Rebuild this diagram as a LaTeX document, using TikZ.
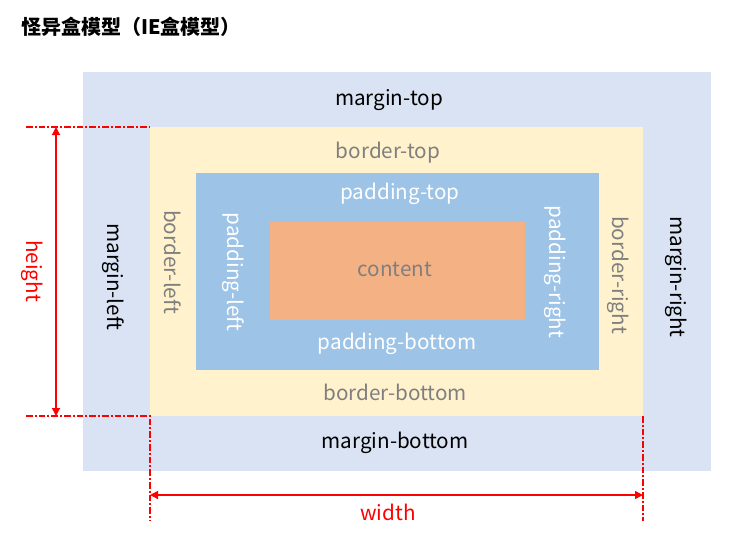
\documentclass[tikz,border=0pt]{standalone}
\usepackage{fontspec}
\setmainfont{Noto Sans CJK SC}
\usetikzlibrary{arrows.meta, positioning}

\definecolor{margin_col}{HTML}{DAE3F3}
\definecolor{border_col}{HTML}{FFF2CC}
\definecolor{padding_col}{HTML}{9DC3E6}
\definecolor{content_col}{HTML}{F4B183}
\definecolor{text_gray}{HTML}{7F7F7F}

\begin{document}
\begin{tikzpicture}[
    x=0.75pt, y=-0.75pt,
    label_style/.style={font=\fontsize{15.5}{18}\selectfont, inner sep=0pt},
    dim_style/.style={red, line width=1pt, {Triangle[length=6pt, width=6pt]}-{Triangle[length=6pt, width=6pt]}},
    guide_style/.style={red, line width=0.8pt, dash pattern=on 5pt off 1.5pt on 1.5pt off 1.5pt}
]
    \useasboundingbox (0,0) rectangle (738,537);

    % Title
    \node[anchor=west, inner sep=0pt, font=\fontsize{15}{18}\selectfont\bfseries] (title) at (21,27) {怪异盒模型（IE盒模型）};

    % Boxes
    \fill[margin_col] (83,72) rectangle (711,471);
    \fill[border_col] (150,127) rectangle (643,416);
    \fill[padding_col] (196,173) rectangle (599,370);
    \fill[content_col] (270,222) rectangle (525,320);

    % Corners of the border box
    \coordinate (bl_top) at (150,127);
    \coordinate (bl_bot) at (150,416);
    \coordinate (br_bot) at (643,416);

    % Margin labels
    \node[label_style] (margin_top) at (389,100) {margin-top};
    \node[label_style] (margin_bottom) at (395,443) {margin-bottom};
    \node[label_style, rotate=-90] (margin_left) at (113,277) {margin-left};
    \node[label_style, rotate=-90] (margin_right) at (676,277) {margin-right};

    % Border labels
    \node[label_style, text_gray] (border_top) at (388,153) {border-top};
    \node[label_style, text_gray] (border_bottom) at (395,392) {border-bottom};
    \node[label_style, text_gray, rotate=-90] (border_left) at (173,262) {border-left};
    \node[label_style, text_gray, rotate=-90] (border_right) at (618,275) {border-right};

    % Padding labels
    \node[label_style, white] (padding_top) at (400,194) {padding-top};
    \node[label_style, white] (padding_bottom) at (397,344) {padding-bottom};
    \node[label_style, white, rotate=-90] (padding_left) at (233,272) {padding-left};
    \node[label_style, white, rotate=-90] (padding_right) at (555,272) {padding-right};

    % Content
    \node[label_style, text_gray] (content) at (395,269) {content};

    % Guide lines
    \coordinate (h_top) at (26,127);
    \coordinate (h_bot) at (26,416);
    \coordinate (w_left) at (150,521);
    \coordinate (w_right) at (643,521);
    \draw[guide_style] (h_top) -- (bl_top);
    \draw[guide_style] (h_bot) -- (bl_bot) -- (w_left);
    \draw[guide_style] (br_bot) -- (w_right);

    % Height
    \coordinate (ha) at (56,127);
    \coordinate (hb) at (56,416);
    \draw[dim_style] (ha) -- (hb);
    \node[label_style, red, rotate=-90] (height) at (32,271) {height};

    % Width
    \coordinate (wa) at (150,495);
    \coordinate (wb) at (643,495);
    \draw[dim_style] (wa) -- (wb);
    \node[label_style, red] (width) at (388,512) {width};

\end{tikzpicture}
\end{document}
